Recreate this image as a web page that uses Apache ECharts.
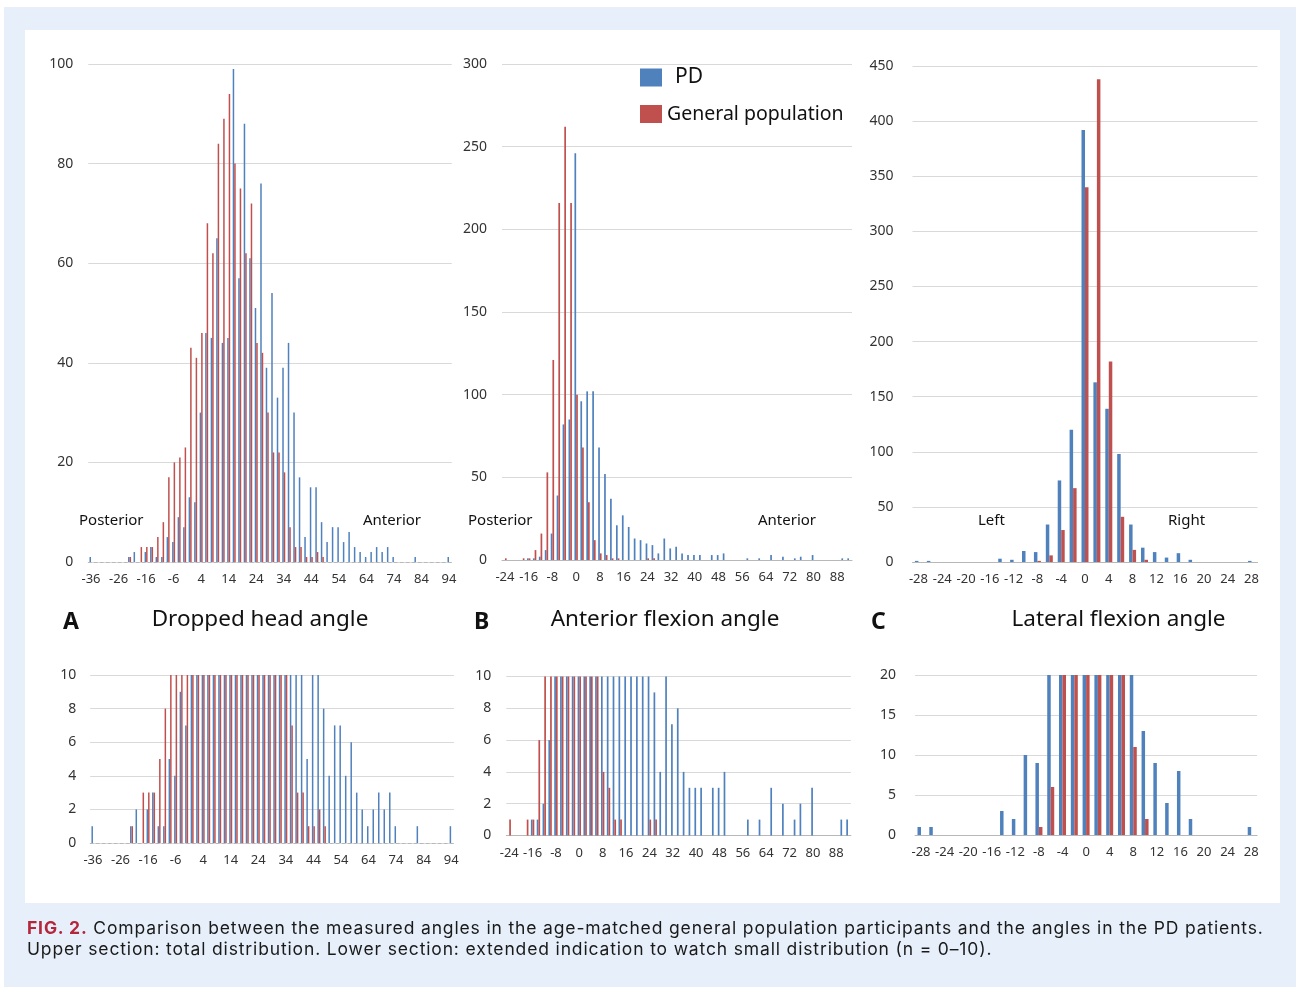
<!DOCTYPE html>
<html><head><meta charset="utf-8">
<script src="https://cdn.jsdelivr.net/npm/echarts@6/dist/echarts.min.js"></script>
<style>
html,body{margin:0;padding:0;width:1296px;height:987px;overflow:hidden;background:#fff;}
#outer{position:absolute;left:4px;top:7px;width:1292px;height:980px;background:#e7f0fa;}
#panel{position:absolute;left:25px;top:30px;width:1255px;height:873px;background:#fff;}
#chart{position:absolute;left:0;top:0;width:1296px;height:987px;}
#cap{position:absolute;left:27px;top:917px;font-family:Inter,"Noto Sans",sans-serif;font-size:17.5px;letter-spacing:0.85px;line-height:21px;color:#1a1a1a;white-space:nowrap;}
#cap b{color:#b3263b;font-weight:700;}
</style></head>
<body>
<div id="outer"></div><div id="panel"></div>
<div id="chart"></div>
<div id="cap"><b>FIG. 2.</b> Comparison between the measured angles in the age-matched general population participants and the angles in the PD patients.<br>Upper section: total distribution. Lower section: extended indication to watch small distribution (n = 0–10).</div>
<script>
// ---- data ----
var catsA = [-36,-34,-32,-30,-28,-26,-24,-22,-20,-18,-16,-14,-12,-10,-8,-6,-4,-2,0,2,4,6,8,10,12,14,16,18,20,22,24,26,28,30,32,34,36,38,40,42,44,46,48,50,52,54,56,58,60,62,64,66,68,70,72,74,76,78,80,82,84,86,88,90,92,94];
var pdA  = [1,0,0,0,0,0,0,1,2,0,2,3,1,1,5,4,9,7,13,12,30,46,45,65,44,45,99,57,88,61,51,76,39,54,33,39,44,30,17,5,15,15,8,4,7,7,4,6,3,2,1,2,3,2,3,1,0,0,0,1,0,0,0,0,0,1];
var genA = [0,0,0,0,0,0,0,1,0,3,3,3,5,8,17,20,21,23,43,41,46,68,62,84,89,94,80,75,62,72,44,42,30,22,22,18,7,3,3,1,1,2,1,0,0,0,0,0,0,0,0,0,0,0,0,0,0,0,0,0,0,0,0,0,0,0];

var catsB = [-24,-22,-20,-18,-16,-14,-12,-10,-8,-6,-4,-2,0,2,4,6,8,10,12,14,16,18,20,22,24,26,28,30,32,34,36,38,40,42,44,46,48,50,52,54,56,58,60,62,64,66,68,70,72,74,76,78,80,82,84,86,88,90,92];
var pdB  = [0,0,0,0,1,1,2,6,16,39,82,85,246,96,102,102,68,52,37,21,27,20,13,12,10,9,4,13,7,8,4,3,3,3,0,3,3,4,0,0,0,1,0,1,0,3,0,2,0,1,2,0,3,0,0,0,0,1,1];
var genB = [1,0,0,1,1,6,16,53,121,216,262,216,100,68,35,12,4,3,1,1,0,0,0,0,1,1,0,0,0,0,0,0,0,0,0,0,0,0,0,0,0,0,0,0,0,0,0,0,0,0,0,0,0,0,0,0,0,0,0];

var catsC = [-28,-26,-24,-22,-20,-18,-16,-14,-12,-10,-8,-6,-4,-2,0,2,4,6,8,10,12,14,16,18,20,22,24,26,28];
var pdC  = [1,1,0,0,0,0,0,3,2,10,9,34,74,120,392,163,139,98,34,13,9,4,8,2,0,0,0,0,1];
var genC = [0,0,0,0,0,0,0,0,0,0,1,6,29,67,340,438,182,41,11,2,0,0,0,0,0,0,0,0,0];

var yTopA = [0,100,20], yTopB = [0,300,50], yTopC = [0,450,50];
var yLowA = [0,10,2],  yLowB = [0,10,2],  yLowC = [0,20,5];

// ---- layout ----
var BLUE = '#4f81bd', RED = '#c0504d';
var FONT = '"Noto Sans", sans-serif';
var panels = [
  {cats:catsA, pd:pdA, gen:genA, y:yTopA, grid:{left:88.25, top:64, width:363.5, height:498}, interval:4, bw:1.5, ym:15, dashed:true},
  {cats:catsB, pd:pdB, gen:genB, y:yTopB, grid:{left:502, top:64, width:350, height:496}, interval:3, bw:1.7, ym:15, dashed:false},
  {cats:catsC, pd:pdC, gen:genC, y:yTopC, grid:{left:912.5, top:66, width:345, height:496}, interval:1, bw:3.5, ym:19, dashed:false},
  {cats:catsA, pd:pdA, gen:genA, y:yLowA, grid:{left:90.2, top:675, width:363.7, height:168}, interval:4, bw:1.5, ym:14, dashed:true},
  {cats:catsB, pd:pdB, gen:genB, y:yLowB, grid:{left:506.3, top:676.5, width:344.6, height:159}, interval:3, bw:1.7, ym:15, dashed:false},
  {cats:catsC, pd:pdC, gen:genC, y:yLowC, grid:{left:915.1, top:675, width:342, height:160}, interval:1, bw:3.5, ym:19, dashed:false}
];

var grids = [], xAxes = [], yAxes = [], series = [];
panels.forEach(function(p, i){
  grids.push({left:p.grid.left, top:p.grid.top, width:p.grid.width, height:p.grid.height});
  xAxes.push({type:'category', gridIndex:i, data:p.cats, boundaryGap:true,
    axisTick:{show:false},
    axisLine:{show:true, lineStyle:{color:'#b8b8b8', width:1, type:p.dashed?[3,3]:'solid'}},
    axisLabel:{interval:p.interval, color:'#333', fontSize:13, fontFamily:FONT, margin:11},
    splitLine:{show:false}});
  yAxes.push({type:'value', gridIndex:i, min:p.y[0], max:p.y[1], interval:p.y[2],
    axisLine:{show:false}, axisTick:{show:false},
    splitLine:{lineStyle:{color:'#d9d9d9', width:1}},
    axisLabel:{color:'#333', fontSize:14, fontFamily:FONT, margin:p.ym}});
  series.push({type:'bar', name:'PD', xAxisIndex:i, yAxisIndex:i, data:p.pd,
    barWidth:p.bw, barGap:'0%', itemStyle:{color:BLUE}, clip:true, silent:true});
  series.push({type:'bar', name:'General population', xAxisIndex:i, yAxisIndex:i, data:p.gen,
    barWidth:p.bw, barGap:'0%', itemStyle:{color:RED}, clip:true, silent:true});
});

function txt(x, y, s, size, weight, align){
  return {type:'text', x:x, y:y, style:{text:s, fill:'#111', font:(weight||'normal')+' '+size+'px '+FONT, textAlign:align||'left', textVerticalAlign:'middle'}};
}

var option = {
  animation:false,
  backgroundColor:'transparent',
  grid:grids, xAxis:xAxes, yAxis:yAxes, series:series,
  legend:{left:640, top:67, padding:0, orient:'vertical', itemWidth:22, itemHeight:18, itemGap:16, selectedMode:false,
    icon:'rect',
    data:['PD','General population'],
    formatter:function(n){ return n==='PD' ? '{big|PD}' : '{sm|'+n+'}'; },
    textStyle:{fontFamily:FONT, color:'#111', rich:{
      big:{fontSize:21, fontFamily:FONT, color:'#111', padding:[0,0,0,8]},
      sm:{fontSize:19.5, fontFamily:FONT, color:'#111', padding:[0,0,0,0]}}}},
  graphic:[
    txt(79, 521, 'Posterior', 15), txt(363, 521, 'Anterior', 15),
    txt(468, 521, 'Posterior', 15), txt(758, 521, 'Anterior', 15),
    txt(978, 521, 'Left', 15), txt(1168, 521, 'Right', 15),
    txt(63, 622, 'A', 23, 'bold'), txt(260, 620, 'Dropped head angle', 22.5, 'normal', 'center'),
    txt(474, 622, 'B', 23, 'bold'), txt(665, 620, 'Anterior flexion angle', 22.5, 'normal', 'center'),
    txt(871, 622, 'C', 23, 'bold'), txt(1118.5, 620, 'Lateral flexion angle', 22.5, 'normal', 'center')
  ]
};
var chart = echarts.init(document.getElementById('chart'), null, {renderer:'canvas'});
chart.setOption(option);
</script>
</body></html>
